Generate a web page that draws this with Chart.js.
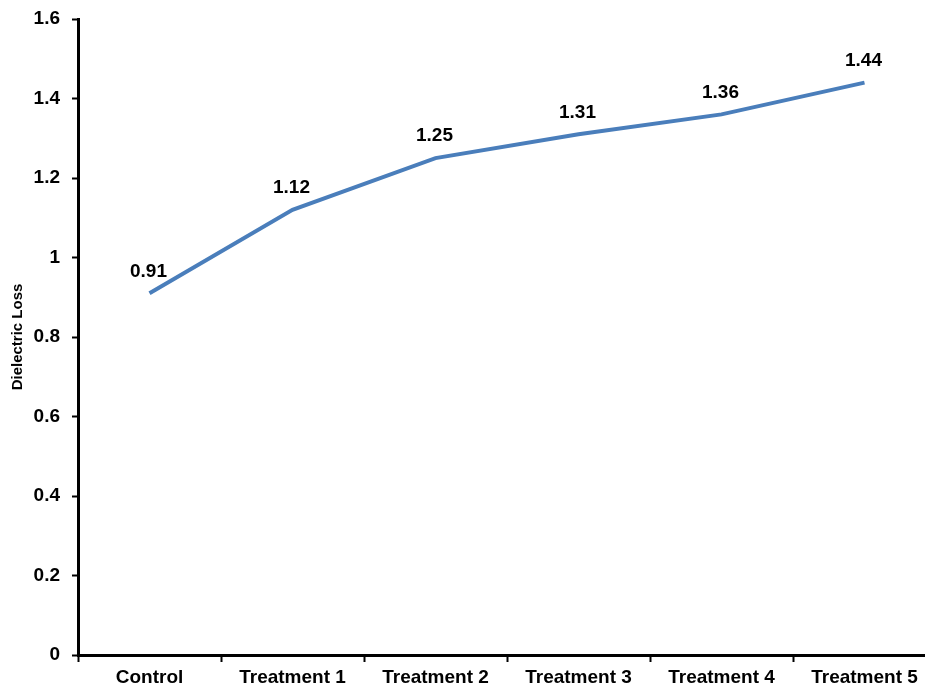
<!DOCTYPE html>
<html>
<head>
<meta charset="utf-8">
<script src="https://cdn.jsdelivr.net/npm/chart.js@4/dist/chart.umd.min.js"></script>
<style>
  html, body { margin: 0; padding: 0; background: #fff; overflow: hidden; }
  #wrap { width: 940px; height: 690px; }
</style>
</head>
<body>
<div id="wrap"><canvas id="chart" width="940" height="690"></canvas></div>
<script>
// Dielectric loss per treatment group
const categories = ['Control', 'Treatment 1', 'Treatment 2', 'Treatment 3', 'Treatment 4', 'Treatment 5'];
const dielectricLoss = [0.91, 1.12, 1.25, 1.31, 1.36, 1.44];
const yTicks = { min: 0, max: 1.6, step: 0.2 };

const FONT = '"Liberation Sans", Arial, Helvetica, sans-serif';

// Writes each point's value just above it
const pointLabels = {
  id: 'pointLabels',
  afterDatasetsDraw(chart) {
    const ctx = chart.ctx;
    const meta = chart.getDatasetMeta(0);
    const values = chart.data.datasets[0].data;
    ctx.save();
    ctx.font = 'bold 19px ' + FONT;
    ctx.fillStyle = '#000';
    ctx.textAlign = 'center';
    ctx.textBaseline = 'middle';
    meta.data.forEach((pt, i) => {
      ctx.fillText(values[i].toFixed(2), pt.x - 1, pt.y - 22);
    });
    ctx.restore();
  }
};

new Chart(document.getElementById('chart'), {
  type: 'line',
  data: {
    labels: categories,
    datasets: [{
      data: dielectricLoss,
      borderColor: '#4a7ebb',
      borderWidth: 4,
      pointRadius: 0,
      tension: 0,
      fill: false
    }]
  },
  options: {
    responsive: false,
    animation: false,
    layout: { padding: { top: 19, right: 4, left: 0, bottom: 0 } },
    plugins: {
      legend: { display: false },
      tooltip: { enabled: false }
    },
    scales: {
      x: {
        type: 'category',
        offset: true,
        grid: {
          offset: true,
          drawOnChartArea: false,
          drawTicks: true,
          tickLength: 7,
          tickWidth: 2,
          tickColor: '#000'
        },
        border: { display: true, color: '#000', width: 3 },
        ticks: {
          color: '#000',
          font: { family: FONT, size: 19, weight: 'bold' },
          padding: 4,
          maxRotation: 0,
          autoSkip: false
        },
        afterFit(scale) {
          scale.height = 35;
          scale.paddingLeft = 0;
          scale.paddingRight = 0;
        }
      },
      y: {
        min: yTicks.min,
        max: yTicks.max,
        grid: {
          drawOnChartArea: false,
          drawTicks: true,
          tickLength: 6,
          tickWidth: 2,
          tickColor: '#000'
        },
        border: { display: true, color: '#000', width: 3 },
        ticks: {
          stepSize: yTicks.step,
          color: '#000',
          font: { family: FONT, size: 19, weight: 'bold' },
          padding: 12,
          callback: (v) => String(Math.round(v * 10) / 10)
        },
        title: {
          display: true,
          text: 'Dielectric Loss',
          color: '#000',
          font: { family: FONT, size: 15, weight: 'bold' },
          padding: { top: 9, bottom: 0 }
        },
        afterFit(scale) {
          scale.width = 78;
          scale.paddingTop = 0;
          scale.paddingBottom = 0;
        }
      }
    }
  },
  plugins: [pointLabels]
});
</script>
</body>
</html>
